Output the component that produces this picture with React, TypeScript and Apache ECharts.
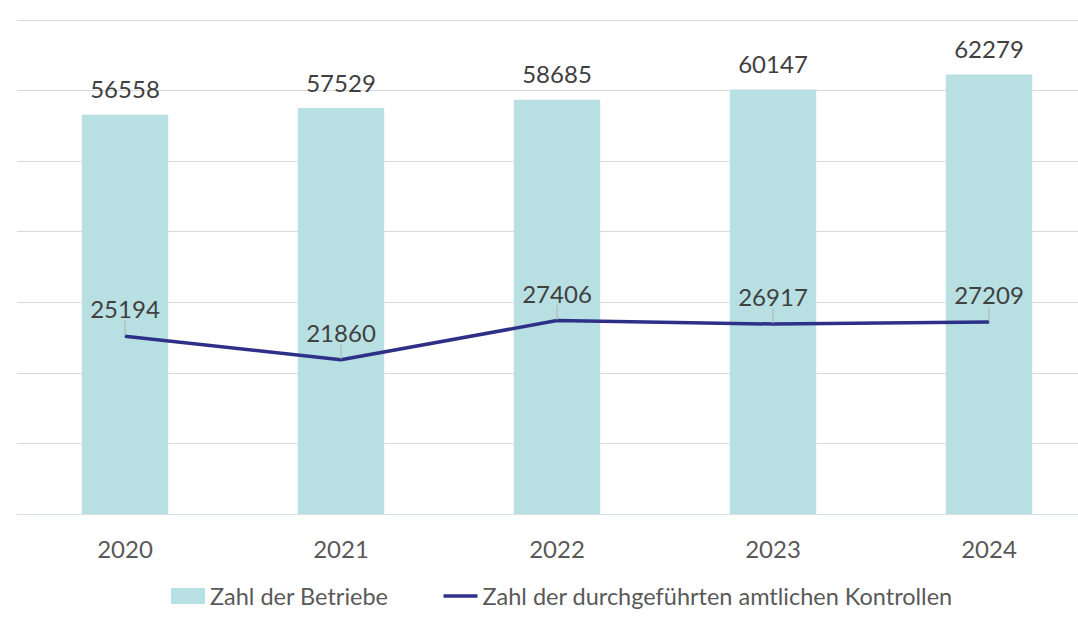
import React, { useEffect, useRef } from "react";
import * as echarts from "echarts";

const categories = ["2020", "2021", "2022", "2023", "2024"];
const betriebe = [56558, 57529, 58685, 60147, 62279];
const kontrollen = [25194, 21860, 27406, 26917, 27209];
const seriesNames = ["Zahl der Betriebe", "Zahl der durchgeführten amtlichen Kontrollen"];

const FONT = "Lato, 'Open Sans', sans-serif";
const LINE_ICON = "path://M0,0 M34,16 M0,6.25 L34,6.25 L34,9.75 L0,9.75 Z";

export default function App() {
  const ref = useRef<HTMLDivElement>(null);
  useEffect(() => {
    document.body.style.margin = "0";
    document.body.style.overflow = "hidden";
    const chart = echarts.init(ref.current!, undefined, { renderer: "svg" });
    chart.setOption({
      animation: false,
      textStyle: { fontFamily: FONT },
      grid: { left: 17, right: 0, top: 20, bottom: 122, containLabel: false },
      legend: {
        bottom: 28,
        left: 171,
        padding: 0,
        itemWidth: 34,
        itemHeight: 16,
        itemGap: 55,
        textStyle: { fontSize: 23.5, color: "#595959", fontFamily: FONT },
        data: [
          { name: seriesNames[0], icon: "rect" },
          { name: seriesNames[1], icon: LINE_ICON },
        ],
      },
      xAxis: {
        type: "category",
        data: categories,
        axisTick: { show: false },
        axisLine: { lineStyle: { color: "#d9dfe0" } },
        axisLabel: { fontSize: 24, color: "#595959", margin: 22, fontFamily: FONT },
      },
      yAxis: {
        type: "value",
        min: 0,
        max: 70000,
        interval: 10000,
        axisLabel: { show: false },
        splitLine: { lineStyle: { color: "#d9d9d9" } },
      },
      series: [
        {
          name: seriesNames[0],
          type: "bar",
          data: betriebe,
          barWidth: "40%",
          itemStyle: { color: "#b8e0e3" },
          label: {
            show: true,
            position: "top",
            distance: 14,
            fontSize: 24,
            color: "#404040",
            fontFamily: FONT,
          },
        },
        {
          name: seriesNames[1],
          type: "line",
          data: kontrollen,
          symbol: "circle",
          symbolSize: 1,
          showSymbol: true,
          lineStyle: { color: "#2e3088", width: 3.5 },
          itemStyle: { color: "#2e3088" },
          label: {
            show: true,
            position: "top",
            distance: 0,
            fontSize: 24,
            color: "#404040",
            fontFamily: FONT,
          },
          labelLayout: { dy: -15 },
          labelLine: { show: true, lineStyle: { color: "#b0b0b0", width: 1 } },
        },
      ],
    });
    return () => chart.dispose();
  }, []);
  return (
    <div style={{ width: 1078, height: 636, overflow: "hidden" }}>
      <div ref={ref} style={{ width: 1097, height: 636 }} />
    </div>
  );
}
